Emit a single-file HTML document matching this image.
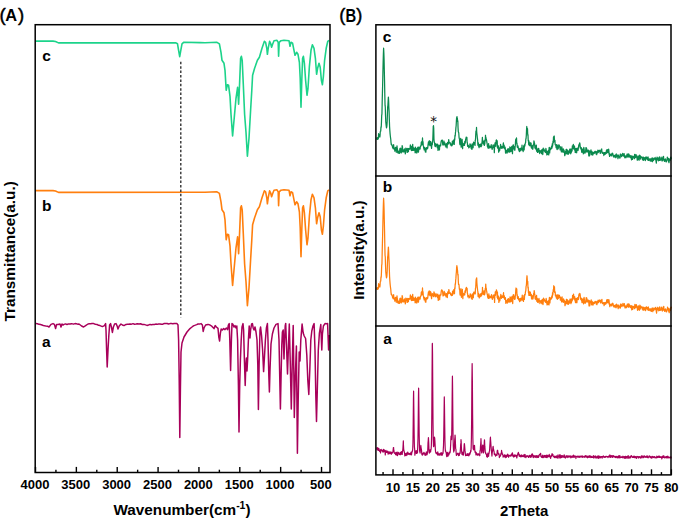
<!DOCTYPE html>
<html lang="en">
<head>
<meta charset="utf-8">
<title>FTIR spectra and XRD patterns</title>
<style>
html,body{margin:0;padding:0;background:#fff;}
body{width:685px;height:521px;overflow:hidden;font-family:"Liberation Sans",Arial,sans-serif;}
svg{display:block;}
</style>
</head>
<body>
<svg width="685" height="521" viewBox="0 0 685 521">
<rect width="685" height="521" fill="#fff"/>
<g fill="none" stroke-linejoin="round" stroke-linecap="butt">
<polyline points="36.00,41.10 53.00,41.10 55.50,41.50 58.50,42.90 176.00,42.90 177.50,43.80 178.60,50.30 179.70,56.60 180.80,50.30 182.00,43.80 183.60,42.30 200.00,42.60 205.00,42.70 217.00,42.30 219.40,43.90 221.00,52.30 222.00,60.30 224.00,63.30 225.00,70.30 226.20,90.30 227.40,84.70 228.60,85.30 230.00,96.30 231.00,114.30 232.60,135.90 234.20,118.30 236.00,98.30 237.60,87.30 238.60,104.30 239.40,88.30 240.60,58.30 241.40,56.30 242.20,60.30 243.30,84.30 244.60,114.30 246.00,132.30 247.40,156.30 249.00,138.30 250.60,110.30 251.80,90.30 252.60,75.30 254.60,68.30 257.40,60.30 259.40,57.30 262.00,48.30 264.40,41.30 265.60,42.30 266.80,48.30 267.40,54.30 268.20,48.30 269.60,41.30 270.60,43.30 271.60,47.30 272.60,44.30 274.00,40.70 277.00,40.30 278.20,42.30 278.60,56.30 279.20,42.30 281.00,40.70 284.00,40.30 289.00,40.70 290.00,46.30 291.00,42.30 292.60,43.30 294.00,50.30 295.00,55.30 296.60,52.30 298.00,54.30 299.40,62.30 300.20,78.30 301.00,107.30 301.80,80.30 302.60,58.30 303.40,56.30 304.40,63.30 305.60,80.30 307.00,95.30 308.00,88.30 309.40,66.30 311.00,50.30 312.40,44.70 314.00,48.30 315.40,58.30 316.60,74.30 317.60,68.30 319.00,63.30 320.20,67.30 321.40,80.30 322.40,84.70 323.40,76.30 324.60,60.30 326.20,48.30 327.80,41.30 329.00,40.30" stroke="#1cd38a" stroke-width="1.6"/>
<polyline points="36.00,190.60 53.00,190.60 55.50,191.00 58.50,192.40 200.00,192.30 205.00,192.20 217.00,191.80 219.40,193.40 221.00,201.80 222.00,209.80 224.00,212.80 225.00,219.80 226.20,239.80 227.40,234.20 228.60,234.80 230.00,245.80 231.00,263.80 232.60,285.40 234.20,267.80 236.00,247.80 237.60,236.80 238.60,253.80 239.40,237.80 240.60,207.80 241.40,205.80 242.20,209.80 243.30,233.80 244.60,263.80 246.00,281.80 247.40,305.80 249.00,287.80 250.60,259.80 251.80,239.80 252.60,224.80 254.60,217.80 257.40,209.80 259.40,206.80 262.00,197.80 264.40,190.80 265.60,191.80 266.80,197.80 267.40,203.80 268.20,197.80 269.60,190.80 270.60,192.80 271.60,196.80 272.60,193.80 274.00,190.20 277.00,189.80 278.20,191.80 278.60,205.80 279.20,191.80 281.00,190.20 284.00,189.80 289.00,190.20 290.00,195.80 291.00,191.80 292.60,192.80 294.00,199.80 295.00,204.80 296.60,201.80 298.00,203.80 299.40,211.80 300.20,227.80 301.00,256.80 301.80,229.80 302.60,207.80 303.40,205.80 304.40,212.80 305.60,229.80 307.00,244.80 308.00,237.80 309.40,215.80 311.00,199.80 312.40,194.20 314.00,197.80 315.40,207.80 316.60,223.80 317.60,217.80 319.00,212.80 320.20,216.80 321.40,229.80 322.40,234.20 323.40,225.80 324.60,209.80 326.20,197.80 327.80,190.80 329.00,189.80" stroke="#ff7f0e" stroke-width="1.6"/>
<polyline points="36.00,323.60 37.50,323.74 39.00,324.34 40.50,324.55 42.00,325.00 43.33,325.42 44.67,325.77 46.00,326.00 47.50,326.15 49.00,327.00 51.00,324.40 53.00,323.60 54.40,324.40 55.60,328.60 56.60,324.40 58.00,324.40 60.00,324.00 61.00,327.00 62.00,324.00 63.00,325.00 64.00,324.40 65.50,323.91 67.00,324.47 68.50,323.91 70.00,324.00 71.67,323.65 73.33,324.13 75.00,323.60 76.33,323.71 77.67,324.14 79.00,324.00 81.60,326.00 83.60,327.00 85.60,325.60 88.00,324.00 89.33,323.85 90.67,323.84 92.00,323.60 93.67,323.59 95.33,324.24 97.00,324.40 98.50,325.29 100.00,325.60 102.40,326.60 104.40,325.60 105.60,323.60 106.00,330.00 106.60,350.00 107.20,367.00 108.00,350.00 108.80,336.00 109.60,325.00 110.60,323.60 111.60,328.00 112.40,332.40 113.40,327.00 114.60,324.00 116.00,323.60 117.00,325.60 118.00,329.00 119.20,326.00 121.00,324.00 122.40,325.00 124.00,325.60 126.00,324.40 127.33,324.29 128.67,324.33 130.00,324.00 131.50,324.14 133.00,323.65 134.50,324.21 136.00,324.07 137.50,323.84 139.00,324.00 140.67,323.76 142.33,324.56 144.00,324.40 145.50,324.88 147.00,325.40 148.50,325.08 150.00,324.40 151.43,324.65 152.86,324.46 154.29,324.57 155.71,324.09 157.14,324.36 158.57,324.01 160.00,324.00 161.43,324.29 162.86,324.19 164.29,323.51 165.71,323.48 167.14,323.49 168.57,324.03 170.00,323.60 171.40,323.55 172.80,323.70 174.20,323.44 175.60,323.61 177.00,323.60 178.00,325.00 178.60,340.00 179.20,380.00 179.80,437.40 180.40,390.00 181.00,352.00 182.00,343.00 184.00,337.00 187.00,332.00 190.00,328.60 191.33,327.51 192.67,326.48 194.00,325.60 195.33,325.13 196.67,324.60 198.00,324.00 199.50,324.12 201.00,323.60 202.40,325.00 203.20,331.40 204.00,328.00 205.60,325.00 208.00,324.40 210.00,325.00 212.00,326.40 214.00,328.60 215.20,325.60 216.40,327.00 218.00,328.40 218.80,337.00 219.60,341.00 220.40,333.00 221.20,329.00 222.40,330.00 223.60,328.60 225.00,329.60 226.40,328.00 227.60,329.60 228.40,325.00 229.20,323.60 229.80,340.00 230.60,370.40 231.40,340.00 232.00,323.60 233.00,324.40 234.00,327.00 235.00,325.60 236.00,328.00 236.80,326.00 237.60,340.00 238.40,385.00 239.00,432.00 239.70,385.00 240.40,360.00 241.20,340.00 242.00,327.00 243.00,323.60 243.60,330.00 244.40,360.00 245.20,385.60 245.80,366.00 246.40,358.00 247.00,371.00 247.60,360.00 248.40,340.00 249.20,326.00 250.00,338.00 250.60,330.00 251.60,324.00 252.40,323.60 253.20,328.00 254.00,330.00 255.00,327.00 256.00,332.00 257.00,340.00 257.80,365.00 258.40,409.50 259.10,365.00 260.00,330.00 260.60,327.00 261.60,336.00 262.60,350.00 263.60,371.60 264.40,358.00 265.40,340.00 266.40,328.00 267.40,323.60 268.00,340.00 268.80,375.00 269.40,392.00 270.00,370.00 271.00,344.00 272.40,334.00 274.00,328.00 276.00,324.40 278.00,323.60 279.00,340.00 279.80,380.00 280.40,409.00 281.10,375.00 281.80,345.00 282.40,332.00 283.20,330.00 283.60,348.00 284.00,359.00 284.60,340.00 285.20,326.00 285.70,323.40 286.50,345.00 287.50,374.00 288.50,345.00 289.30,324.00 290.20,360.00 291.30,409.00 292.20,365.00 293.20,325.50 293.80,370.00 294.30,417.50 295.20,380.00 296.40,346.00 296.90,400.00 297.40,453.30 298.20,400.00 299.20,352.00 300.00,361.00 300.80,340.00 302.10,324.00 303.20,333.00 304.20,336.00 305.60,338.50 306.80,355.00 307.80,380.00 308.80,394.50 309.80,370.00 310.80,340.00 311.80,331.00 313.00,326.00 314.10,323.60 315.00,350.00 315.80,395.00 316.50,421.60 317.30,390.00 318.30,350.00 319.40,333.00 320.80,324.60 321.30,338.00 321.80,350.00 322.40,334.00 323.40,326.00 325.00,323.60 326.30,323.75 327.60,323.60 328.20,340.00 328.60,350.00 329.20,335.00" stroke="#a8005a" stroke-width="1.5"/>
<polyline points="376.69,139.59 376.93,138.11 377.17,137.63 377.41,139.29 377.65,139.44 377.89,139.20 378.13,138.79 378.36,138.40 378.60,133.67 378.84,134.99 379.08,135.73 379.32,134.87 379.56,136.15 379.80,137.13 380.03,135.99 380.27,131.71 380.51,131.36 380.75,130.88 380.99,126.79 381.23,127.27 381.47,122.02 381.71,115.34 381.94,113.84 382.18,102.76 382.42,93.13 382.66,84.10 382.90,72.96 383.14,62.51 383.38,54.02 383.61,48.18 383.85,52.72 384.09,59.84 384.33,71.59 384.57,81.85 384.81,94.95 385.05,105.48 385.28,106.77 385.52,115.48 385.76,121.60 386.00,124.04 386.24,126.23 386.48,127.91 386.72,127.17 386.95,125.11 387.19,121.27 387.43,113.60 387.67,106.90 387.91,105.28 388.15,100.81 388.39,97.16 388.63,101.12 388.86,107.52 389.10,111.64 389.34,119.87 389.58,126.60 389.82,130.21 390.06,133.34 390.30,135.79 390.53,137.58 390.77,139.28 391.01,142.51 391.25,144.32 391.49,143.94 391.73,145.11 391.97,144.94 392.20,145.27 392.44,146.91 392.68,147.97 392.92,146.61 393.16,148.69 393.40,147.85 393.64,144.74 393.87,148.34 394.11,148.83 394.35,149.42 394.59,148.10 394.83,151.16 395.07,149.98 395.31,149.77 395.55,147.45 395.78,147.42 396.02,150.77 396.26,152.26 396.50,148.44 396.74,149.99 396.98,145.90 397.22,148.49 397.45,148.73 397.69,152.75 397.93,151.00 398.17,151.34 398.41,153.24 398.65,151.01 398.89,151.14 399.12,152.47 399.36,153.47 399.60,153.08 399.84,148.55 400.08,149.70 400.32,148.15 400.56,152.24 400.79,150.19 401.03,149.15 401.27,152.87 401.51,151.21 401.75,148.27 401.99,148.71 402.15,145.60 402.23,147.52 402.47,146.69 402.70,151.71 402.94,150.51 403.18,152.10 403.42,151.06 403.66,151.44 403.90,149.69 404.14,150.58 404.37,148.97 404.61,151.38 404.85,152.34 405.09,151.97 405.33,153.82 405.57,152.14 405.81,148.01 406.04,150.36 406.28,148.46 406.52,148.87 406.76,149.34 407.00,150.54 407.24,152.35 407.48,148.73 407.71,151.93 407.95,148.46 408.19,151.47 408.43,151.56 408.67,148.68 408.91,148.56 409.15,149.45 409.39,148.60 409.62,148.82 409.86,149.17 410.10,148.12 410.34,144.93 410.58,148.46 410.82,146.49 411.06,147.77 411.29,150.27 411.53,149.86 411.77,150.64 412.01,145.77 412.25,150.28 412.49,146.12 412.73,144.43 412.88,150.49 412.96,146.94 413.20,147.18 413.44,149.55 413.68,148.07 413.92,150.30 414.16,149.15 414.40,148.53 414.63,150.02 414.87,148.06 415.11,152.76 415.35,147.10 415.59,151.76 415.83,152.30 416.07,151.84 416.31,151.02 416.54,148.54 416.78,153.05 417.02,148.17 417.26,149.62 417.50,147.55 417.74,151.87 417.98,147.18 418.21,151.66 418.45,152.13 418.69,150.22 418.93,147.08 419.17,149.03 419.41,147.62 419.65,148.71 419.88,148.71 420.12,149.07 420.36,146.25 420.60,146.57 420.84,146.09 421.08,145.30 421.32,142.10 421.55,144.99 421.79,142.65 421.99,141.43 422.03,141.73 422.27,142.71 422.51,137.93 422.75,144.97 422.99,141.58 423.23,145.14 423.46,145.91 423.70,148.26 423.94,148.30 424.18,149.98 424.42,147.28 424.66,149.61 424.90,149.71 425.13,149.67 425.37,151.81 425.61,148.21 425.85,152.23 426.09,149.15 426.33,148.26 426.57,147.55 426.80,149.14 427.04,147.80 427.28,148.83 427.52,147.82 427.76,148.20 428.00,145.13 428.24,143.50 428.47,141.90 428.71,144.86 428.95,143.73 429.19,140.94 429.43,144.61 429.59,142.81 429.67,140.94 429.91,145.61 430.15,143.16 430.38,141.59 430.62,142.07 430.86,141.90 431.10,145.05 431.34,146.58 431.58,148.33 431.82,144.81 432.05,143.23 432.29,144.66 432.53,141.57 432.77,140.15 433.01,133.79 433.25,126.37 433.41,126.71 433.49,125.62 433.72,128.28 433.96,138.71 434.20,142.26 434.44,141.90 434.68,144.14 434.92,146.24 435.16,144.19 435.39,145.44 435.63,146.55 435.87,143.58 436.11,144.38 436.35,144.78 436.59,145.07 436.83,144.85 437.07,146.49 437.30,147.54 437.54,144.03 437.78,147.11 438.02,150.40 438.26,148.70 438.50,148.36 438.74,146.64 438.97,145.16 439.21,145.55 439.45,149.91 439.69,146.01 439.93,146.17 440.17,145.25 440.41,145.56 440.64,145.77 440.88,143.25 441.12,141.53 441.36,140.79 441.60,140.34 441.84,140.85 442.00,140.24 442.08,140.75 442.31,140.15 442.55,142.89 442.79,144.88 443.03,143.37 443.27,142.46 443.51,144.94 443.75,142.07 443.99,141.01 444.22,144.03 444.46,144.44 444.70,143.34 444.94,142.92 445.18,145.59 445.42,145.08 445.66,145.08 445.89,147.00 446.13,145.01 446.37,143.76 446.61,143.70 446.85,145.23 447.09,147.85 447.33,143.92 447.56,142.43 447.80,144.38 448.04,144.13 448.28,143.29 448.52,143.52 448.68,139.71 448.76,139.71 449.00,141.95 449.23,142.20 449.47,142.88 449.71,143.10 449.95,142.73 450.19,142.71 450.43,144.85 450.67,144.31 450.91,143.82 451.14,144.35 451.38,145.79 451.62,144.38 451.86,144.91 452.10,145.63 452.34,141.21 452.58,143.84 452.81,144.46 453.05,142.23 453.29,142.35 453.53,140.02 453.77,141.46 454.01,142.31 454.25,144.46 454.48,138.82 454.72,139.99 454.96,135.41 455.20,136.23 455.44,132.76 455.68,131.15 455.92,127.48 456.15,125.73 456.39,120.97 456.63,117.62 456.87,117.86 456.99,116.66 457.11,117.43 457.35,117.97 457.59,121.35 457.83,120.87 458.06,128.02 458.30,131.86 458.54,132.15 458.78,133.20 459.02,136.83 459.26,138.56 459.50,138.98 459.73,143.43 459.97,144.63 460.21,141.23 460.45,143.40 460.69,138.33 460.93,143.62 461.17,147.12 461.40,143.81 461.64,144.67 461.88,143.20 462.12,139.37 462.36,144.40 462.60,148.60 462.84,144.65 463.07,143.25 463.31,145.03 463.55,144.19 463.79,145.34 464.03,143.95 464.27,144.07 464.51,145.33 464.75,141.49 464.98,143.37 465.22,143.26 465.46,141.43 465.70,138.96 465.94,138.95 466.18,137.02 466.42,138.31 466.65,138.98 466.89,137.35 467.13,142.48 467.37,142.76 467.61,146.31 467.85,145.33 468.09,145.69 468.32,145.31 468.56,146.20 468.80,147.92 469.04,146.46 469.28,147.41 469.52,146.51 469.76,145.64 469.99,143.92 470.23,144.23 470.47,145.09 470.71,146.94 470.95,145.09 471.19,148.43 471.43,146.50 471.67,147.04 471.90,149.40 472.14,143.93 472.38,147.23 472.62,147.93 472.86,144.77 473.10,147.75 473.34,143.71 473.57,142.24 473.81,144.24 474.05,143.94 474.29,143.52 474.53,142.69 474.77,144.20 475.01,145.35 475.24,140.04 475.48,140.18 475.72,134.89 475.96,131.11 476.20,131.44 476.44,129.70 476.52,127.40 476.68,131.48 476.91,133.72 477.15,135.76 477.39,138.21 477.63,139.91 477.87,145.15 478.11,143.66 478.35,142.74 478.59,146.14 478.82,146.18 479.06,147.62 479.30,144.64 479.54,146.25 479.78,145.07 480.02,146.72 480.26,144.11 480.49,146.31 480.73,146.27 480.97,144.10 481.21,146.62 481.45,144.07 481.69,145.57 481.93,142.82 482.16,141.27 482.40,137.32 482.48,141.51 482.64,139.75 482.88,142.72 483.12,143.41 483.36,143.70 483.60,142.83 483.83,144.34 484.07,140.98 484.31,145.48 484.55,144.65 484.79,143.87 485.03,139.88 485.27,140.90 485.51,135.25 485.74,138.66 485.98,137.53 486.22,138.93 486.46,139.73 486.70,141.15 486.94,142.87 487.18,143.75 487.41,146.33 487.65,144.86 487.89,147.90 488.13,146.00 488.37,147.68 488.61,143.68 488.85,148.32 489.08,147.37 489.32,147.29 489.56,146.15 489.80,146.12 490.04,147.52 490.28,147.10 490.52,146.47 490.75,147.57 490.99,147.07 491.23,144.70 491.47,147.39 491.71,147.20 491.95,148.93 492.19,149.27 492.43,148.10 492.66,147.47 492.90,145.23 493.14,147.65 493.38,147.13 493.62,147.40 493.86,144.94 494.10,145.64 494.33,152.68 494.57,146.76 494.81,146.12 495.05,142.88 495.29,146.42 495.53,143.70 495.77,142.89 496.00,141.65 496.24,140.09 496.40,141.46 496.48,139.91 496.72,141.40 496.96,146.14 497.20,140.80 497.44,147.81 497.67,148.21 497.91,146.11 498.15,146.87 498.39,145.88 498.63,152.22 498.87,147.70 499.11,147.83 499.34,149.62 499.58,150.87 499.82,148.87 500.06,148.15 500.30,147.84 500.54,144.43 500.78,146.15 501.02,147.74 501.25,148.42 501.49,146.71 501.73,146.30 501.97,147.84 502.21,146.56 502.45,147.07 502.69,147.70 502.92,148.08 503.16,144.40 503.40,142.81 503.56,147.67 503.64,145.78 503.88,147.13 504.12,145.15 504.36,147.82 504.59,148.76 504.83,147.90 505.07,147.13 505.31,148.78 505.55,153.07 505.79,151.02 506.03,150.58 506.26,151.83 506.50,151.50 506.74,150.96 506.98,153.12 507.22,149.86 507.46,149.20 507.70,151.02 507.94,151.99 508.17,148.59 508.41,151.96 508.65,149.64 508.89,149.29 509.13,151.46 509.37,151.00 509.61,152.09 509.84,146.78 510.08,148.39 510.32,148.52 510.56,147.68 510.80,151.70 511.04,149.83 511.28,149.94 511.51,151.18 511.75,146.34 511.99,148.62 512.23,149.43 512.47,153.62 512.71,147.82 512.95,145.05 513.18,148.30 513.42,144.90 513.66,148.08 513.90,146.46 514.14,149.48 514.38,150.04 514.62,148.14 514.86,150.19 515.09,147.11 515.33,145.16 515.57,141.14 515.81,139.05 516.05,141.94 516.29,141.96 516.53,137.90 516.76,144.07 517.00,143.21 517.24,146.88 517.48,147.41 517.72,146.19 517.96,145.98 518.20,147.31 518.43,149.26 518.67,148.06 518.91,150.40 519.15,149.70 519.39,151.69 519.63,149.98 519.87,149.37 520.10,148.46 520.34,150.86 520.58,150.30 520.82,150.67 521.06,148.18 521.30,148.26 521.54,148.15 521.78,149.39 522.01,145.19 522.25,149.96 522.49,148.67 522.73,150.42 522.97,150.36 523.21,151.57 523.45,148.85 523.68,145.81 523.92,149.43 524.16,149.88 524.40,145.00 524.64,145.40 524.88,146.04 525.12,144.02 525.35,142.98 525.59,142.72 525.83,138.93 526.07,138.57 526.31,135.54 526.55,129.84 526.79,126.50 527.02,128.94 527.26,131.87 527.50,128.74 527.74,135.31 527.98,134.69 528.22,140.75 528.46,141.00 528.70,144.46 528.93,140.93 529.17,145.10 529.41,145.66 529.65,143.38 529.89,143.58 530.13,142.62 530.37,145.80 530.60,144.29 530.84,144.21 531.08,143.14 531.32,147.82 531.56,147.51 531.80,147.62 532.04,148.60 532.27,145.58 532.51,145.81 532.75,149.27 532.99,147.92 533.23,145.83 533.47,144.03 533.71,144.86 533.94,140.81 534.18,141.79 534.42,143.28 534.66,144.02 534.90,147.88 535.14,148.31 535.38,145.96 535.62,147.70 535.85,149.21 536.09,147.40 536.33,145.18 536.57,151.17 536.81,148.03 537.05,148.32 537.29,149.77 537.52,152.35 537.76,150.14 538.00,152.48 538.24,149.50 538.48,149.14 538.72,148.28 538.96,150.75 539.19,151.63 539.43,150.45 539.67,153.51 539.91,150.73 540.15,151.76 540.39,151.04 540.63,151.10 540.86,150.76 541.10,152.59 541.34,150.20 541.58,153.67 541.82,151.19 542.06,153.15 542.30,149.35 542.54,150.76 542.77,154.52 543.01,151.83 543.25,148.12 543.49,150.39 543.73,149.70 543.97,149.14 544.21,149.73 544.44,151.14 544.68,150.48 544.92,151.17 545.16,152.01 545.40,152.24 545.64,150.75 545.88,148.47 546.11,149.67 546.35,152.91 546.59,150.96 546.83,154.90 547.07,151.88 547.31,153.43 547.55,151.29 547.78,152.58 548.02,154.40 548.26,151.97 548.50,150.40 548.74,154.95 548.98,149.23 549.22,147.33 549.46,147.62 549.69,152.89 549.93,149.10 550.17,149.73 550.41,148.05 550.65,149.65 550.89,148.83 551.13,148.78 551.36,148.08 551.60,146.18 551.84,148.37 552.08,147.47 552.32,143.54 552.56,146.13 552.80,144.28 553.03,141.05 553.27,142.65 553.51,137.00 553.75,142.07 553.99,137.17 554.07,137.55 554.23,136.00 554.47,141.17 554.70,141.16 554.94,140.37 555.18,144.57 555.42,144.93 555.66,144.69 555.90,145.89 556.14,147.54 556.38,146.47 556.61,144.68 556.85,148.54 557.09,149.56 557.33,145.24 557.57,148.99 557.81,147.40 558.05,148.97 558.28,148.29 558.52,147.30 558.76,144.89 558.84,146.59 559.00,145.52 559.24,145.14 559.48,146.61 559.72,146.52 559.95,148.05 560.19,149.81 560.43,146.76 560.67,148.83 560.91,148.38 561.15,149.97 561.39,151.87 561.62,151.73 561.86,146.81 562.10,151.32 562.34,151.23 562.58,149.49 562.82,151.03 563.06,152.37 563.30,148.81 563.53,151.32 563.77,151.55 564.01,150.09 564.25,151.25 564.49,152.04 564.73,155.63 564.97,155.10 565.20,153.20 565.44,151.34 565.68,151.12 565.92,153.67 566.16,149.26 566.40,151.27 566.64,149.35 566.87,150.62 567.11,154.01 567.35,150.13 567.59,151.64 567.83,150.92 568.07,153.34 568.31,154.31 568.54,151.42 568.78,152.28 569.02,150.93 569.26,153.16 569.50,152.16 569.74,149.09 569.98,151.44 570.22,150.14 570.45,150.09 570.69,153.76 570.93,148.87 571.17,152.82 571.41,151.65 571.65,150.44 571.89,151.14 572.12,150.59 572.36,145.89 572.60,146.76 572.84,148.09 573.08,147.82 573.32,144.27 573.56,148.91 573.79,145.74 574.03,147.79 574.27,147.25 574.51,146.23 574.75,150.20 574.99,148.19 575.23,152.37 575.46,150.21 575.70,148.64 575.94,150.10 576.18,152.61 576.42,148.75 576.66,152.75 576.90,149.97 577.14,148.04 577.37,148.80 577.61,149.10 577.85,149.49 578.09,150.49 578.33,148.44 578.57,146.53 578.81,145.14 579.04,144.50 579.28,145.79 579.52,143.23 579.76,142.94 580.00,144.28 580.24,148.07 580.48,146.88 580.71,147.85 580.95,147.54 581.19,149.77 581.43,147.91 581.67,151.86 581.91,152.45 582.15,151.89 582.38,149.33 582.62,150.17 582.86,149.61 583.10,148.86 583.34,153.86 583.58,153.16 583.82,147.33 584.06,148.90 584.29,150.45 584.53,151.26 584.77,152.48 585.01,153.27 585.25,150.90 585.49,152.13 585.73,150.12 585.96,147.60 586.20,151.79 586.44,147.92 586.68,150.11 586.92,149.05 587.16,151.92 587.40,151.94 587.63,150.96 587.87,151.86 588.11,150.85 588.35,150.09 588.59,153.28 588.83,155.97 589.07,150.69 589.30,154.34 589.54,155.78 589.78,151.86 590.02,152.98 590.26,151.03 590.50,151.46 590.74,152.45 590.98,149.76 591.21,154.76 591.45,153.60 591.69,153.15 591.93,151.35 592.17,153.65 592.41,154.06 592.65,155.13 592.88,154.71 593.12,152.37 593.36,152.41 593.60,152.93 593.84,153.61 594.08,152.42 594.32,153.29 594.55,152.43 594.79,151.44 595.03,152.39 595.27,151.49 595.51,152.48 595.75,151.42 595.99,153.98 596.22,152.54 596.46,152.20 596.70,154.71 596.94,151.81 597.18,152.96 597.42,151.16 597.66,152.83 597.90,150.13 598.13,150.37 598.37,152.38 598.61,150.65 598.85,151.38 599.09,150.86 599.33,150.27 599.57,151.70 599.80,151.07 600.04,150.81 600.28,153.34 600.52,150.86 600.76,150.51 601.00,150.05 601.24,149.78 601.47,151.68 601.71,148.98 601.95,152.75 602.19,152.08 602.43,153.33 602.67,152.88 602.91,152.41 603.14,152.53 603.38,153.00 603.62,153.82 603.86,155.51 604.10,153.67 604.34,152.63 604.58,154.36 604.82,152.64 605.05,152.70 605.29,152.49 605.53,154.16 605.77,153.08 606.01,153.48 606.25,152.84 606.49,150.06 606.72,153.14 606.96,151.01 607.20,149.70 607.44,152.25 607.68,150.57 607.76,152.37 607.92,149.95 608.16,152.53 608.39,151.66 608.63,149.13 608.87,150.57 609.11,154.29 609.35,154.62 609.59,156.44 609.83,153.84 610.06,154.39 610.30,154.49 610.54,154.54 610.78,155.18 611.02,155.53 611.26,154.01 611.50,155.91 611.74,154.82 611.97,154.37 612.21,153.18 612.45,153.26 612.69,153.44 612.93,154.20 613.17,156.05 613.41,156.36 613.64,155.61 613.88,157.14 614.12,155.27 614.36,156.14 614.60,156.70 614.84,156.34 615.08,156.98 615.31,155.15 615.55,154.85 615.79,157.75 616.03,155.57 616.27,153.99 616.51,155.80 616.75,156.77 616.98,155.99 617.22,155.84 617.46,155.44 617.70,154.97 617.94,158.70 618.18,157.15 618.42,155.91 618.65,155.21 618.89,157.17 619.13,156.41 619.37,156.71 619.61,156.66 619.85,158.15 620.09,157.93 620.33,154.03 620.56,154.81 620.80,154.15 621.04,154.89 621.28,154.68 621.52,156.47 621.76,156.69 622.00,155.21 622.23,155.25 622.47,154.46 622.71,153.29 622.95,154.74 623.19,155.54 623.43,154.48 623.67,156.17 623.90,155.90 624.14,153.60 624.38,155.47 624.62,156.96 624.86,157.97 625.10,156.30 625.34,156.61 625.57,155.82 625.81,157.73 626.05,157.71 626.29,156.88 626.53,155.71 626.77,156.40 627.01,154.22 627.25,154.85 627.48,154.23 627.72,156.55 627.96,157.27 628.20,153.88 628.44,156.87 628.68,156.75 628.92,154.02 629.15,156.06 629.39,156.47 629.63,156.78 629.87,155.47 630.11,157.47 630.35,157.60 630.59,157.48 630.82,157.14 631.06,155.59 631.30,158.24 631.54,159.81 631.78,157.84 632.02,158.73 632.26,156.19 632.49,159.36 632.73,156.28 632.97,157.06 633.21,157.80 633.45,157.04 633.69,156.31 633.93,156.80 634.17,156.83 634.40,158.71 634.64,154.38 634.88,154.75 635.12,156.69 635.36,156.08 635.60,157.70 635.84,156.02 636.07,154.50 636.31,156.59 636.55,155.90 636.79,156.00 637.03,158.39 637.27,160.25 637.51,157.53 637.74,157.89 637.98,159.70 638.22,155.84 638.46,157.39 638.70,157.47 638.94,157.45 639.18,160.23 639.41,157.22 639.65,155.12 639.89,155.89 640.13,157.63 640.37,155.98 640.61,159.02 640.85,156.28 641.09,157.38 641.32,157.42 641.56,157.52 641.80,157.36 642.04,156.96 642.28,157.58 642.52,159.97 642.76,158.86 642.99,159.31 643.23,158.74 643.47,157.22 643.71,160.33 643.95,159.62 644.19,158.58 644.43,158.70 644.66,157.53 644.90,159.24 645.14,158.96 645.38,160.52 645.62,157.46 645.86,157.66 646.10,156.75 646.33,157.61 646.57,158.95 646.81,157.55 647.05,158.01 647.29,157.65 647.53,159.94 647.77,158.62 648.01,156.90 648.24,157.83 648.48,160.45 648.72,159.69 648.96,159.86 649.20,159.51 649.44,158.91 649.68,159.23 649.91,160.59 650.15,160.23 650.39,158.77 650.63,158.95 650.87,161.20 651.11,161.35 651.35,159.27 651.58,160.10 651.82,158.13 652.06,158.40 652.30,158.43 652.54,161.74 652.78,157.76 653.02,159.74 653.25,160.39 653.49,160.46 653.73,160.02 653.97,158.76 654.21,158.36 654.45,158.52 654.69,159.22 654.93,158.66 655.16,157.45 655.40,159.50 655.64,158.33 655.88,160.18 656.12,161.88 656.36,163.06 656.60,159.61 656.83,158.52 657.07,157.23 657.31,159.84 657.55,159.44 657.79,159.71 658.03,157.81 658.27,158.41 658.50,160.78 658.74,159.87 658.98,159.21 659.22,159.04 659.46,156.93 659.70,160.48 659.94,159.51 660.17,158.97 660.41,160.12 660.65,159.64 660.89,159.67 661.13,157.12 661.37,159.83 661.61,158.21 661.85,158.60 662.08,161.05 662.32,160.48 662.56,160.59 662.80,157.22 663.04,160.13 663.28,157.40 663.52,156.28 663.75,159.70 663.99,159.44 664.23,159.70 664.47,161.36 664.71,159.39 664.95,160.09 665.19,159.26 665.42,158.98 665.66,159.86 665.90,161.54 666.14,160.80 666.38,161.95 666.62,160.55 666.86,159.85 667.09,159.63 667.33,157.15 667.57,158.16 667.81,159.63 668.05,160.41 668.29,159.25 668.53,161.78 668.77,158.46 669.00,162.69 669.24,159.19 669.48,160.99 669.72,159.33 669.96,160.60 670.20,160.30 670.44,159.14 670.67,157.43 670.91,157.09 671.15,158.47 671.39,159.21" stroke="#0b8a4e" stroke-width="1.25"/>
<polyline points="376.69,289.59 376.93,288.11 377.17,287.63 377.41,289.29 377.65,289.44 377.89,289.20 378.13,288.79 378.36,288.40 378.60,283.67 378.84,284.99 379.08,285.74 379.32,284.87 379.56,286.15 379.80,287.13 380.03,285.99 380.27,281.71 380.51,281.36 380.75,280.88 380.99,276.79 381.23,277.27 381.47,272.02 381.71,265.34 381.94,263.84 382.18,252.76 382.42,243.13 382.66,234.10 382.90,222.96 383.14,212.52 383.38,204.02 383.61,198.18 383.85,202.72 384.09,209.84 384.33,221.59 384.57,231.85 384.81,244.95 385.05,255.48 385.28,256.78 385.52,265.48 385.76,271.60 386.00,274.04 386.24,276.23 386.48,277.91 386.72,277.17 386.95,275.11 387.19,271.28 387.43,263.60 387.67,256.90 387.91,255.28 388.15,250.82 388.39,247.16 388.63,251.12 388.86,257.52 389.10,261.64 389.34,269.87 389.58,276.60 389.82,280.21 390.06,283.34 390.30,285.79 390.53,287.58 390.77,289.28 391.01,292.51 391.25,294.32 391.49,293.94 391.73,295.11 391.97,294.94 392.20,295.27 392.44,296.91 392.68,297.97 392.92,296.61 393.16,298.69 393.40,297.85 393.64,294.74 393.87,298.34 394.11,298.83 394.35,299.42 394.59,298.11 394.83,301.16 395.07,299.98 395.31,299.77 395.55,297.45 395.78,297.42 396.02,300.77 396.26,302.26 396.50,298.44 396.74,299.99 396.98,295.90 397.22,298.49 397.45,298.73 397.69,302.75 397.93,301.00 398.17,301.34 398.41,303.25 398.65,301.01 398.89,301.14 399.12,302.47 399.36,303.47 399.60,303.08 399.84,298.55 400.08,299.70 400.32,298.15 400.56,302.24 400.79,300.19 401.03,299.15 401.27,302.87 401.51,301.21 401.75,298.27 401.99,298.71 402.15,295.60 402.23,297.52 402.47,296.69 402.70,301.71 402.94,300.51 403.18,302.10 403.42,301.06 403.66,301.45 403.90,299.70 404.14,300.58 404.37,298.97 404.61,301.38 404.85,302.34 405.09,301.98 405.33,303.82 405.57,302.14 405.81,298.01 406.04,300.36 406.28,298.46 406.52,298.87 406.76,299.34 407.00,300.54 407.24,302.35 407.48,298.73 407.71,301.93 407.95,298.46 408.19,301.47 408.43,301.56 408.67,298.68 408.91,298.56 409.15,299.45 409.39,298.60 409.62,298.82 409.86,299.18 410.10,298.12 410.34,294.93 410.58,298.46 410.82,296.49 411.06,297.78 411.29,300.27 411.53,299.86 411.77,300.64 412.01,295.77 412.25,300.28 412.49,296.12 412.73,294.44 412.88,300.49 412.96,296.94 413.20,297.18 413.44,299.56 413.68,298.07 413.92,300.30 414.16,299.15 414.40,298.53 414.63,300.02 414.87,298.07 415.11,302.76 415.35,297.11 415.59,301.77 415.83,302.30 416.07,301.84 416.31,301.02 416.54,298.54 416.78,303.06 417.02,298.17 417.26,299.62 417.50,297.55 417.74,301.87 417.98,297.19 418.21,301.66 418.45,302.14 418.69,300.22 418.93,297.08 419.17,299.04 419.41,297.62 419.65,298.71 419.88,298.72 420.12,299.08 420.36,296.26 420.60,296.57 420.84,296.10 421.08,295.30 421.32,292.11 421.55,295.00 421.79,292.66 421.99,291.44 422.03,291.74 422.27,292.72 422.51,287.94 422.75,294.98 422.99,291.59 423.23,295.15 423.46,295.93 423.70,298.27 423.94,298.31 424.18,299.99 424.42,297.29 424.66,299.63 424.90,299.72 425.13,299.68 425.37,301.83 425.61,298.23 425.85,302.25 426.09,299.17 426.33,298.29 426.57,297.58 426.80,299.17 427.04,297.83 427.28,298.86 427.52,297.85 427.76,298.24 428.00,295.17 428.24,293.54 428.47,291.95 428.71,294.91 428.95,293.79 429.19,291.00 429.43,294.68 429.59,292.88 429.67,291.02 429.91,295.70 430.15,293.26 430.38,291.71 430.62,292.22 430.86,292.07 431.10,295.26 431.34,296.84 431.58,298.66 431.82,295.23 432.05,293.82 432.29,295.62 432.53,293.64 432.77,295.30 433.01,294.97 433.25,294.45 433.49,296.71 433.72,295.11 433.96,291.90 434.20,295.54 434.44,295.06 434.68,293.10 434.92,294.80 435.16,296.69 435.39,294.53 435.63,295.70 435.87,296.75 436.11,293.76 436.35,294.52 436.59,294.89 436.83,295.16 437.07,294.92 437.30,296.54 437.54,297.59 437.78,294.07 438.02,297.13 438.26,300.41 438.50,298.69 438.74,298.34 438.97,296.59 439.21,295.08 439.45,295.42 439.69,299.70 439.93,295.71 440.17,295.74 440.41,294.68 440.64,294.85 440.88,294.93 441.12,292.33 441.36,290.62 441.60,290.01 441.84,289.85 442.00,290.75 442.08,290.27 442.31,291.11 442.55,290.85 442.79,293.77 443.03,295.81 443.27,294.23 443.51,293.21 443.75,295.55 443.99,292.54 444.22,291.35 444.46,294.27 444.70,294.59 444.94,293.43 445.18,292.97 445.42,295.61 445.66,295.09 445.89,295.06 446.13,296.97 446.37,294.95 446.61,293.67 446.85,293.55 447.09,295.01 447.33,297.54 447.56,293.52 447.80,291.95 448.04,293.86 448.28,293.66 448.52,292.96 448.68,293.44 448.76,289.71 449.00,289.88 449.23,292.30 449.47,292.63 449.71,293.30 449.95,293.45 450.19,292.98 450.43,292.87 450.67,294.92 450.91,294.32 451.14,293.78 451.38,294.28 451.62,295.69 451.86,294.26 452.10,294.77 452.34,295.47 452.58,291.02 452.81,293.62 453.05,294.21 453.29,291.93 453.53,292.00 453.77,289.60 454.01,290.95 454.25,291.67 454.48,293.67 454.72,287.82 454.96,288.72 455.20,283.81 455.44,284.21 455.68,280.26 455.92,278.14 456.15,274.01 456.39,272.10 456.63,267.76 456.87,265.70 456.99,267.61 457.11,266.93 457.35,269.38 457.59,271.17 457.83,274.98 458.06,274.33 458.30,281.04 458.54,284.36 458.78,284.16 459.02,284.80 459.26,288.10 459.50,289.55 459.73,289.77 459.97,294.06 460.21,295.14 460.45,291.64 460.69,293.75 460.93,288.62 461.17,293.87 461.40,297.33 461.64,293.99 461.88,294.82 462.12,293.33 462.36,289.48 462.60,294.50 462.84,298.68 463.07,294.71 463.31,293.29 463.55,295.04 463.79,294.16 464.03,295.24 464.27,293.75 464.51,293.72 464.75,294.81 464.98,290.77 465.22,292.46 465.46,292.22 465.70,290.40 465.94,288.19 466.18,288.69 466.42,287.38 466.65,289.19 466.89,290.10 467.13,288.49 467.37,293.50 467.61,293.59 467.85,296.93 468.09,295.77 468.32,295.99 468.56,295.51 468.80,296.34 469.04,298.02 469.28,296.54 469.52,297.47 469.76,296.56 469.99,295.69 470.23,293.96 470.47,294.26 470.71,295.12 470.95,296.96 471.19,295.11 471.43,298.44 471.67,296.51 471.90,297.04 472.14,299.40 472.38,293.92 472.62,297.20 472.86,297.88 473.10,294.71 473.34,297.66 473.57,293.60 473.81,292.08 474.05,294.01 474.29,293.60 474.53,293.02 474.77,291.94 475.01,293.12 475.24,293.87 475.48,288.12 475.72,287.87 475.96,282.41 476.20,278.92 476.44,280.22 476.52,279.62 476.68,277.76 476.91,283.14 477.15,286.11 477.39,288.25 477.63,290.43 477.87,291.72 478.11,296.52 478.35,294.65 478.59,293.42 478.82,296.60 479.06,296.49 479.30,297.83 479.54,294.77 479.78,296.33 480.02,295.10 480.26,296.69 480.49,294.00 480.73,296.07 480.97,295.88 481.21,293.53 481.45,295.87 481.69,293.18 481.93,294.64 482.16,292.03 482.40,290.83 482.48,287.29 482.64,291.62 482.88,290.31 483.12,293.55 483.36,294.29 483.60,294.45 483.83,293.35 484.07,294.55 484.31,290.84 484.55,294.97 484.79,293.78 485.03,292.67 485.27,288.44 485.51,289.44 485.74,284.11 485.98,288.25 486.22,288.05 486.46,290.19 486.70,291.32 486.94,292.73 487.18,294.26 487.41,294.87 487.65,297.17 487.89,295.46 488.13,298.32 488.37,296.29 488.61,297.88 488.85,293.83 489.08,298.44 489.32,297.47 489.56,297.37 489.80,296.22 490.04,296.18 490.28,297.57 490.52,297.15 490.75,296.52 490.99,297.61 491.23,297.11 491.47,294.73 491.71,297.42 491.95,297.23 492.19,298.95 492.43,299.29 492.66,298.11 492.90,297.47 493.14,295.23 493.38,297.64 493.62,297.10 493.86,297.33 494.10,294.83 494.33,295.44 494.57,302.37 494.81,296.29 495.05,295.44 495.29,291.97 495.53,295.31 495.77,292.48 496.00,291.75 496.24,290.88 496.40,289.94 496.48,291.51 496.72,290.54 496.96,292.52 497.20,297.42 497.44,292.02 497.67,298.85 497.91,299.02 498.15,296.70 498.39,297.28 498.63,296.16 498.87,302.41 499.11,297.83 499.34,297.93 499.58,299.69 499.82,300.92 500.06,298.92 500.30,298.18 500.54,297.86 500.78,294.44 501.02,296.13 501.25,297.69 501.49,298.31 501.73,296.53 501.97,296.01 502.21,297.41 502.45,295.98 502.69,296.36 502.92,296.93 503.16,297.37 503.40,293.94 503.56,292.72 503.64,297.71 503.88,296.17 504.12,297.83 504.36,295.97 504.59,298.61 504.83,299.46 505.07,298.43 505.31,297.53 505.55,299.05 505.79,303.26 506.03,301.15 506.26,300.67 506.50,301.89 506.74,301.55 506.98,301.00 507.22,303.16 507.46,299.89 507.70,299.23 507.94,301.05 508.17,302.02 508.41,298.61 508.65,301.98 508.89,299.66 509.13,299.31 509.37,301.48 509.61,301.02 509.84,302.11 510.08,296.80 510.32,298.40 510.56,298.53 510.80,297.68 511.04,301.70 511.28,299.83 511.51,299.94 511.75,301.18 511.99,296.33 512.23,298.61 512.47,299.39 512.71,303.56 512.95,297.74 513.18,294.96 513.42,298.18 513.66,294.73 513.90,297.85 514.14,296.12 514.38,299.01 514.62,299.37 514.86,297.25 515.09,299.07 515.33,295.78 515.57,293.71 515.81,289.76 516.05,288.00 516.29,291.53 516.53,292.33 516.76,288.91 517.00,295.41 517.24,294.62 517.48,298.18 517.72,298.50 517.96,297.04 518.20,296.61 518.43,297.76 518.67,299.56 518.91,298.25 519.15,300.52 519.39,299.78 519.63,301.74 519.87,300.00 520.10,299.38 520.34,298.47 520.58,300.85 520.82,300.28 521.06,300.65 521.30,298.14 521.54,298.22 521.78,298.09 522.01,299.33 522.25,295.12 522.49,299.87 522.73,298.56 522.97,300.29 523.21,300.22 523.45,301.40 523.68,298.63 523.92,295.54 524.16,299.08 524.40,299.44 524.64,294.41 524.88,294.61 525.12,294.99 525.35,292.63 525.59,291.22 525.83,290.57 526.07,286.43 526.31,285.86 526.55,282.94 526.79,277.88 527.02,275.75 527.26,279.66 527.50,283.79 527.74,281.29 527.98,287.96 528.22,287.10 528.46,292.74 528.70,292.51 528.93,295.45 529.17,291.42 529.41,295.11 529.65,295.28 529.89,292.73 530.13,292.83 530.37,292.05 530.60,295.69 530.84,294.76 531.08,295.16 531.32,294.32 531.56,298.99 531.80,298.51 532.04,298.37 532.27,299.07 532.51,295.76 532.75,295.72 532.99,298.93 533.23,297.38 533.47,295.16 533.71,293.35 533.94,294.35 534.18,290.64 534.42,292.08 534.66,293.92 534.90,294.84 535.14,298.71 535.38,299.05 535.62,296.56 535.85,298.15 536.09,299.53 536.33,297.62 536.57,295.33 536.81,301.27 537.05,298.10 537.29,298.38 537.52,299.82 537.76,302.39 538.00,300.17 538.24,302.51 538.48,299.53 538.72,299.17 538.96,298.30 539.19,300.77 539.43,301.65 539.67,300.47 539.91,303.53 540.15,300.74 540.39,301.78 540.63,301.05 540.86,301.11 541.10,300.77 541.34,302.60 541.58,300.21 541.82,303.68 542.06,301.21 542.30,303.16 542.54,299.36 542.77,300.77 543.01,304.53 543.25,301.83 543.49,298.13 543.73,300.40 543.97,299.71 544.21,299.15 544.44,299.73 544.68,301.15 544.92,300.48 545.16,301.17 545.40,302.02 545.64,302.24 545.88,300.75 546.11,298.47 546.35,299.67 546.59,302.91 546.83,300.96 547.07,304.90 547.31,301.87 547.55,303.42 547.78,301.28 548.02,302.56 548.26,304.38 548.50,301.96 548.74,300.38 548.98,304.93 549.22,299.21 549.46,297.30 549.69,297.58 549.93,302.85 550.17,299.04 550.41,299.66 550.65,297.96 550.89,299.53 551.13,298.67 551.36,298.57 551.60,297.78 551.84,295.77 552.08,297.80 552.32,296.72 552.56,292.56 552.80,294.92 553.03,292.87 553.27,289.51 553.51,291.12 553.75,285.75 553.99,291.41 554.07,287.13 554.23,287.73 554.47,286.89 554.70,292.55 554.94,292.72 555.18,291.88 555.42,295.91 555.66,296.04 555.90,295.57 556.14,296.55 556.38,298.01 556.61,296.77 556.85,294.83 557.09,298.55 557.33,299.42 557.57,294.95 557.81,298.56 558.05,296.87 558.28,298.40 558.52,297.81 558.76,297.06 558.84,294.88 559.00,296.70 559.24,295.95 559.48,295.76 559.72,297.28 559.95,297.13 560.19,298.57 560.43,300.21 560.67,297.05 560.91,299.03 561.15,298.51 561.39,300.06 561.62,301.94 561.86,301.77 562.10,296.85 562.34,301.35 562.58,301.26 562.82,299.51 563.06,301.05 563.30,302.39 563.53,298.82 563.77,301.33 564.01,301.57 564.25,300.10 564.49,301.26 564.73,302.05 564.97,305.64 565.20,305.11 565.44,303.21 565.68,301.35 565.92,301.13 566.16,303.67 566.40,299.27 566.64,301.27 566.87,299.35 567.11,300.63 567.35,304.01 567.59,300.13 567.83,301.64 568.07,300.92 568.31,303.34 568.54,304.31 568.78,301.42 569.02,302.28 569.26,300.93 569.50,303.16 569.74,302.15 569.98,299.09 570.22,301.43 570.45,300.12 570.69,300.07 570.93,303.72 571.17,298.81 571.41,302.73 571.65,301.50 571.89,300.21 572.12,300.80 572.36,300.14 572.60,295.32 572.84,296.12 573.08,297.47 573.32,297.34 573.56,294.07 573.79,299.08 574.03,296.20 574.27,298.39 574.51,297.86 574.75,296.78 574.99,300.63 575.23,298.50 575.46,302.57 575.70,300.32 575.94,298.69 576.18,300.10 576.42,302.57 576.66,298.67 576.90,302.62 577.14,299.76 577.37,297.74 577.61,298.37 577.85,298.53 578.09,298.77 578.33,299.61 578.57,297.44 578.81,295.48 579.04,294.17 579.28,293.80 579.52,295.53 579.76,293.49 580.00,293.65 580.24,295.25 580.48,299.13 580.71,297.89 580.95,298.74 581.19,298.28 581.43,300.35 581.67,298.35 581.91,302.18 582.15,302.68 582.38,302.05 582.62,299.45 582.86,300.26 583.10,299.67 583.34,298.91 583.58,303.90 583.82,303.20 584.06,297.36 584.29,298.93 584.53,300.47 584.77,301.28 585.01,302.50 585.25,303.29 585.49,300.92 585.73,302.14 585.96,300.13 586.20,297.61 586.44,301.80 586.68,297.92 586.92,300.12 587.16,299.06 587.40,301.93 587.63,301.94 587.87,300.97 588.11,301.86 588.35,300.86 588.59,300.10 588.83,303.28 589.07,305.97 589.30,300.69 589.54,304.34 589.78,305.78 590.02,301.87 590.26,302.98 590.50,301.04 590.74,301.46 590.98,302.45 591.21,299.76 591.45,304.76 591.69,303.60 591.93,302.96 592.17,301.39 592.41,303.69 592.65,304.09 592.88,305.16 593.12,304.74 593.36,302.40 593.60,302.44 593.84,302.97 594.08,303.65 594.32,302.46 594.55,303.32 594.79,302.47 595.03,301.47 595.27,302.43 595.51,301.52 595.75,302.51 595.99,301.45 596.22,304.01 596.46,302.57 596.70,302.23 596.94,304.73 597.18,301.83 597.42,302.98 597.66,301.17 597.90,302.83 598.13,300.12 598.37,300.34 598.61,302.32 598.85,300.54 599.09,301.22 599.33,300.63 599.57,299.97 599.80,301.34 600.04,300.65 600.28,300.38 600.52,302.95 600.76,300.59 601.00,300.43 601.24,300.19 601.47,300.12 601.71,302.13 601.95,299.48 602.19,303.23 602.43,302.51 602.67,303.70 602.91,303.17 603.14,302.63 603.38,302.71 603.62,303.13 603.86,303.92 604.10,305.59 604.34,303.73 604.58,302.68 604.82,304.40 605.05,302.67 605.29,302.70 605.53,302.46 605.77,304.09 606.01,302.96 606.25,303.31 606.49,302.63 606.72,299.80 606.96,302.87 607.20,300.75 607.44,299.51 607.68,302.18 607.76,300.58 607.92,302.44 608.16,300.18 608.39,302.86 608.63,302.04 608.87,299.51 609.11,300.93 609.35,304.60 609.59,304.87 609.83,306.64 610.06,304.00 610.30,304.52 610.54,304.59 610.78,304.63 611.02,305.26 611.26,305.60 611.50,304.07 611.74,305.97 611.97,304.88 612.21,304.42 612.45,303.24 612.69,303.32 612.93,303.49 613.17,304.25 613.41,306.10 613.64,306.42 613.88,305.66 614.12,307.19 614.36,305.32 614.60,306.19 614.84,306.76 615.08,306.39 615.31,307.03 615.55,305.20 615.79,304.89 616.03,307.78 616.27,305.60 616.51,304.02 616.75,305.83 616.98,306.79 617.22,306.02 617.46,305.87 617.70,305.47 617.94,305.00 618.18,308.73 618.42,307.18 618.65,305.94 618.89,305.24 619.13,307.20 619.37,306.44 619.61,306.74 619.85,306.68 620.09,308.18 620.33,307.96 620.56,304.06 620.80,304.83 621.04,304.18 621.28,304.92 621.52,304.71 621.76,306.50 622.00,306.71 622.23,305.24 622.47,305.28 622.71,304.49 622.95,303.32 623.19,304.77 623.43,305.57 623.67,304.50 623.90,306.19 624.14,305.93 624.38,303.63 624.62,305.50 624.86,306.99 625.10,308.00 625.34,306.33 625.57,306.64 625.81,305.84 626.05,307.76 626.29,307.74 626.53,306.91 626.77,305.74 627.01,306.42 627.25,304.25 627.48,304.88 627.72,304.26 627.96,306.58 628.20,307.30 628.44,303.90 628.68,306.90 628.92,306.78 629.15,304.05 629.39,306.09 629.63,306.50 629.87,306.80 630.11,305.50 630.35,307.49 630.59,307.63 630.82,307.51 631.06,307.16 631.30,305.61 631.54,308.27 631.78,309.83 632.02,307.86 632.26,308.74 632.49,306.21 632.73,309.37 632.97,306.30 633.21,307.08 633.45,307.82 633.69,307.06 633.93,306.33 634.17,306.82 634.40,306.85 634.64,308.72 634.88,304.40 635.12,304.77 635.36,306.71 635.60,306.10 635.84,307.72 636.07,306.03 636.31,304.51 636.55,306.61 636.79,305.92 637.03,306.02 637.27,308.40 637.51,310.27 637.74,307.55 637.98,307.90 638.22,309.72 638.46,305.85 638.70,307.40 638.94,307.49 639.18,307.47 639.41,310.25 639.65,307.24 639.89,305.14 640.13,305.90 640.37,307.65 640.61,306.00 640.85,309.03 641.09,306.29 641.32,307.40 641.56,307.44 641.80,307.53 642.04,307.38 642.28,306.97 642.52,307.59 642.76,309.98 642.99,308.88 643.23,309.32 643.47,308.76 643.71,307.23 643.95,310.34 644.19,309.64 644.43,308.60 644.66,308.72 644.90,307.54 645.14,309.26 645.38,308.98 645.62,310.54 645.86,307.48 646.10,307.68 646.33,306.76 646.57,307.62 646.81,308.97 647.05,307.56 647.29,308.02 647.53,307.67 647.77,309.96 648.01,308.64 648.24,306.91 648.48,307.84 648.72,310.47 648.96,309.71 649.20,309.88 649.44,309.53 649.68,308.93 649.91,309.25 650.15,310.60 650.39,310.25 650.63,308.79 650.87,308.96 651.11,311.22 651.35,311.36 651.58,309.29 651.82,310.10 652.06,308.14 652.30,308.40 652.54,308.43 652.78,311.74 653.02,307.76 653.25,309.75 653.49,310.39 653.73,310.46 653.97,310.02 654.21,308.77 654.45,308.36 654.69,308.53 654.93,309.22 655.16,308.66 655.40,307.45 655.64,309.50 655.88,308.33 656.12,310.18 656.36,311.88 656.60,313.06 656.83,309.62 657.07,308.53 657.31,307.24 657.55,309.85 657.79,309.45 658.03,309.72 658.27,307.81 658.50,308.41 658.74,310.79 658.98,309.87 659.22,309.21 659.46,309.04 659.70,306.93 659.94,310.48 660.17,309.52 660.41,308.97 660.65,310.13 660.89,309.64 661.13,309.67 661.37,307.12 661.61,309.83 661.85,308.21 662.08,308.61 662.32,311.06 662.56,310.48 662.80,310.59 663.04,307.22 663.28,310.14 663.52,307.40 663.75,306.28 663.99,309.71 664.23,309.44 664.47,309.71 664.71,311.36 664.95,309.40 665.19,310.09 665.42,309.27 665.66,308.98 665.90,309.86 666.14,311.55 666.38,310.80 666.62,311.95 666.86,310.55 667.09,309.85 667.33,309.63 667.57,307.15 667.81,308.16 668.05,309.64 668.29,310.41 668.53,309.25 668.77,311.78 669.00,308.47 669.24,312.69 669.48,309.19 669.72,310.99 669.96,309.33 670.20,310.60 670.44,310.30 670.67,309.14 670.91,307.44 671.15,307.09 671.39,308.47" stroke="#ff7f0e" stroke-width="1.25"/>
<polyline points="376.69,447.44 376.93,449.14 377.17,449.86 377.41,448.45 377.65,447.74 377.89,449.10 378.13,449.74 378.36,450.46 378.60,448.25 378.84,448.27 379.08,450.37 379.32,450.24 379.56,451.40 379.80,450.95 380.03,449.96 380.27,449.89 380.51,452.83 380.75,450.07 380.99,449.68 381.23,449.40 381.47,450.69 381.71,450.80 381.94,450.37 382.18,450.71 382.42,451.11 382.66,451.59 382.90,452.05 383.14,451.22 383.38,449.28 383.61,451.84 383.85,449.77 384.09,451.08 384.33,449.84 384.57,451.37 384.81,450.65 385.05,451.71 385.28,454.85 385.52,451.56 385.76,452.51 386.00,450.41 386.24,451.50 386.48,452.51 386.72,451.82 386.95,452.34 387.19,452.13 387.43,451.08 387.67,452.71 387.91,451.39 388.15,454.13 388.39,451.82 388.63,453.07 388.86,452.44 389.10,453.44 389.34,451.90 389.58,453.52 389.82,452.41 390.06,453.82 390.30,453.19 390.53,452.73 390.77,451.82 391.01,453.38 391.25,453.09 391.49,454.27 391.73,452.25 391.97,453.17 392.20,453.09 392.44,452.79 392.68,452.48 392.92,451.80 393.16,449.70 393.40,447.58 393.60,447.51 393.64,448.53 393.87,450.70 394.11,451.88 394.35,453.09 394.59,453.33 394.83,453.46 395.07,453.04 395.31,453.69 395.55,454.74 395.78,452.68 396.02,452.35 396.26,455.03 396.50,453.35 396.74,454.10 396.98,454.03 397.22,452.04 397.45,455.63 397.69,455.00 397.93,453.42 398.17,454.02 398.41,453.41 398.65,452.42 398.89,453.21 399.12,453.71 399.36,454.47 399.60,454.08 399.84,453.45 400.08,454.75 400.32,452.65 400.56,454.20 400.79,454.53 401.03,453.11 401.27,451.59 401.51,452.44 401.75,453.52 401.99,453.71 402.23,454.50 402.47,451.31 402.70,450.71 402.94,448.32 403.18,444.01 403.34,440.81 403.42,444.25 403.66,448.78 403.90,450.91 404.14,451.09 404.37,452.50 404.61,453.47 404.85,455.90 405.09,454.12 405.33,453.68 405.57,455.17 405.81,453.57 406.04,455.55 406.28,453.02 406.52,453.26 406.76,454.47 407.00,455.19 407.24,454.43 407.48,454.09 407.71,451.98 407.95,453.09 408.19,453.20 408.43,453.28 408.67,454.38 408.91,453.46 409.15,454.57 409.39,453.86 409.62,453.43 409.86,453.86 410.10,454.14 410.34,454.54 410.58,453.15 410.82,453.33 411.06,452.12 411.29,454.97 411.53,454.66 411.77,452.80 412.01,452.17 412.25,450.89 412.49,451.30 412.73,448.72 412.96,442.95 413.20,423.64 413.44,399.81 413.60,391.15 413.68,396.87 413.92,415.81 414.16,434.49 414.40,446.85 414.63,448.83 414.87,455.22 415.11,453.45 415.35,453.24 415.59,452.69 415.83,450.84 416.07,452.89 416.31,451.43 416.54,453.48 416.78,450.56 417.02,451.47 417.26,453.07 417.50,452.46 417.74,446.83 417.98,438.18 418.21,421.95 418.45,397.43 418.61,388.08 418.69,390.39 418.93,412.05 419.17,433.54 419.41,445.37 419.65,451.28 419.88,451.84 420.12,453.08 420.36,449.64 420.60,447.46 420.84,445.45 421.08,447.83 421.32,449.17 421.55,450.51 421.79,453.87 422.03,454.98 422.27,454.54 422.51,455.14 422.75,454.13 422.99,453.21 423.23,454.06 423.46,453.63 423.70,452.91 423.94,452.35 424.18,452.57 424.42,454.05 424.66,454.21 424.90,453.58 425.13,455.47 425.37,454.20 425.61,454.58 425.85,455.19 426.09,453.10 426.33,451.89 426.57,454.53 426.80,452.97 427.04,454.78 427.28,453.42 427.52,453.11 427.76,450.43 428.00,443.04 428.24,440.61 428.40,437.70 428.47,437.99 428.71,442.67 428.95,448.83 429.19,451.92 429.43,453.22 429.67,450.86 429.91,451.91 430.15,449.93 430.38,451.86 430.62,452.02 430.86,449.80 431.10,449.28 431.34,445.71 431.58,436.88 431.82,412.67 432.05,375.94 432.29,343.74 432.37,343.40 432.53,353.41 432.77,389.72 433.01,422.60 433.25,439.62 433.49,445.99 433.72,446.71 433.96,444.89 434.20,440.28 434.44,437.04 434.60,438.46 434.68,437.76 434.92,441.19 435.16,445.86 435.39,449.82 435.63,452.16 435.87,452.13 436.11,453.42 436.35,453.73 436.59,452.91 436.83,453.01 437.07,452.90 437.30,452.91 437.54,454.94 437.78,451.74 438.02,453.88 438.26,453.57 438.50,453.59 438.74,454.33 438.97,455.38 439.21,454.34 439.45,454.14 439.69,453.67 439.93,454.15 440.17,455.18 440.41,453.87 440.64,453.09 440.88,452.95 441.12,453.06 441.36,452.73 441.60,455.15 441.84,454.31 442.08,453.59 442.31,455.10 442.55,452.74 442.79,453.76 443.03,453.17 443.27,449.43 443.51,445.45 443.75,435.68 443.99,418.57 444.22,401.06 444.30,396.91 444.46,405.29 444.70,424.32 444.94,440.66 445.18,448.27 445.42,451.27 445.66,450.81 445.89,452.15 446.13,452.25 446.37,454.20 446.61,455.95 446.85,456.70 447.09,453.71 447.33,452.38 447.56,453.72 447.80,453.20 448.04,456.12 448.28,454.69 448.52,453.34 448.76,454.94 449.00,454.45 449.23,452.17 449.47,453.09 449.71,453.12 449.95,452.90 450.19,451.91 450.43,448.87 450.67,444.68 450.91,438.36 451.06,436.10 451.14,438.54 451.38,439.78 451.62,439.36 451.86,426.21 452.10,403.25 452.34,380.44 452.42,376.19 452.58,386.94 452.81,413.22 453.05,436.14 453.29,446.06 453.53,450.01 453.77,452.03 454.01,450.21 454.25,450.51 454.48,444.55 454.72,439.32 454.96,437.08 455.04,435.02 455.20,437.08 455.44,443.41 455.68,448.82 455.92,449.23 456.15,453.24 456.39,455.40 456.63,455.07 456.87,453.83 457.11,453.61 457.35,454.01 457.59,453.22 457.83,454.16 458.06,454.28 458.30,454.34 458.54,455.68 458.78,454.26 459.02,453.00 459.26,455.45 459.50,453.23 459.73,453.68 459.97,453.54 460.21,452.10 460.45,448.57 460.69,444.60 460.93,442.88 461.01,439.72 461.17,441.57 461.40,447.67 461.64,451.50 461.88,453.74 462.12,454.71 462.36,452.18 462.60,453.39 462.84,454.41 463.07,454.71 463.31,455.24 463.55,453.62 463.79,450.92 464.03,447.65 464.27,443.79 464.39,443.62 464.51,444.69 464.75,447.31 464.98,450.41 465.22,452.40 465.46,455.19 465.70,455.68 465.94,455.53 466.18,455.48 466.42,455.50 466.65,454.69 466.89,455.37 467.13,453.66 467.37,454.51 467.61,453.97 467.85,455.41 468.09,454.07 468.32,454.51 468.56,454.97 468.80,455.85 469.04,453.62 469.28,453.37 469.52,454.98 469.76,452.86 469.99,454.17 470.23,452.80 470.47,452.76 470.71,450.28 470.95,451.45 471.19,446.95 471.43,437.08 471.67,417.59 471.90,381.63 472.14,363.49 472.38,381.24 472.62,414.97 472.86,437.72 473.10,448.34 473.34,449.30 473.57,449.87 473.81,448.83 474.05,445.83 474.29,446.00 474.33,445.39 474.53,445.53 474.77,449.78 475.01,451.74 475.24,452.73 475.48,452.70 475.72,452.11 475.96,454.86 476.20,454.43 476.44,452.95 476.68,454.65 476.91,453.24 477.15,454.78 477.39,454.98 477.63,455.21 477.87,455.08 478.11,455.04 478.35,453.72 478.59,454.45 478.82,454.29 479.06,454.51 479.30,454.91 479.54,455.10 479.78,455.76 480.02,450.63 480.26,451.26 480.49,446.28 480.73,443.70 480.89,440.90 480.97,438.67 481.21,444.94 481.45,448.76 481.69,452.90 481.93,451.21 482.16,450.61 482.40,447.70 482.64,445.57 482.68,445.03 482.88,445.04 483.12,450.32 483.36,452.97 483.60,452.23 483.83,449.45 484.07,446.52 484.31,441.97 484.47,439.85 484.55,440.41 484.79,446.18 485.03,448.58 485.27,452.15 485.51,452.10 485.74,453.80 485.98,453.97 486.22,453.87 486.46,454.21 486.70,456.75 486.94,454.78 487.18,454.88 487.41,457.18 487.65,454.91 487.89,453.20 488.13,455.28 488.37,453.85 488.61,456.29 488.85,453.16 489.08,453.33 489.32,451.25 489.56,450.87 489.80,446.29 490.04,442.72 490.28,438.43 490.44,437.21 490.52,439.02 490.75,442.16 490.99,445.85 491.23,448.74 491.47,451.02 491.71,453.57 491.95,456.05 492.19,452.90 492.43,451.59 492.66,450.01 492.90,447.60 493.14,446.34 493.22,447.01 493.38,449.13 493.62,449.55 493.86,451.13 494.10,451.64 494.33,454.44 494.57,454.69 494.81,453.73 495.05,453.99 495.29,455.09 495.53,456.18 495.77,455.80 496.00,455.36 496.24,454.72 496.48,455.08 496.72,454.18 496.96,455.39 497.20,450.81 497.44,450.46 497.60,451.82 497.67,450.37 497.91,452.97 498.15,452.82 498.39,454.13 498.63,454.34 498.87,453.72 499.11,454.31 499.34,457.57 499.58,456.04 499.82,456.00 500.06,456.31 500.30,455.80 500.54,455.97 500.78,454.12 501.02,453.29 501.25,453.46 501.49,451.41 501.57,450.38 501.73,451.72 501.97,452.32 502.21,454.52 502.45,453.98 502.69,454.13 502.92,455.11 503.16,457.12 503.40,455.58 503.64,455.83 503.88,455.71 504.12,456.02 504.36,456.44 504.59,456.81 504.83,454.55 505.07,456.82 505.31,455.80 505.55,455.58 505.79,457.63 506.03,455.71 506.26,457.30 506.50,456.58 506.74,455.09 506.98,456.23 507.22,456.43 507.46,455.79 507.70,454.14 507.94,455.63 508.17,455.75 508.41,455.07 508.65,457.28 508.89,455.73 509.13,455.62 509.37,455.69 509.61,455.32 509.84,455.33 510.08,455.97 510.32,456.13 510.56,455.49 510.80,455.77 511.04,454.70 511.28,455.95 511.51,454.64 511.75,454.81 511.99,453.32 512.23,453.17 512.31,453.68 512.47,452.75 512.71,456.08 512.95,454.85 513.18,455.33 513.42,455.13 513.66,457.03 513.90,456.95 514.14,456.18 514.38,454.95 514.62,455.62 514.86,456.47 515.09,455.63 515.33,455.13 515.57,455.13 515.81,455.44 516.05,456.02 516.29,455.51 516.53,455.98 516.76,458.01 517.00,457.12 517.24,454.75 517.48,455.29 517.72,454.32 517.96,453.24 518.20,453.50 518.28,452.42 518.43,452.62 518.67,453.39 518.91,454.50 519.15,456.24 519.39,456.28 519.63,454.91 519.87,455.69 520.10,455.48 520.34,456.72 520.58,456.31 520.82,456.83 521.06,456.13 521.30,454.76 521.54,456.54 521.78,456.39 522.01,456.61 522.25,455.26 522.49,456.30 522.73,455.74 522.97,455.74 523.21,456.53 523.45,456.54 523.68,455.61 523.92,455.00 524.16,454.44 524.40,455.87 524.64,457.15 524.88,456.27 525.12,454.63 525.35,455.68 525.59,456.65 525.83,457.59 526.07,457.22 526.31,456.62 526.55,456.50 526.79,455.56 527.02,456.02 527.26,456.12 527.50,455.79 527.74,456.42 527.98,456.08 528.22,456.63 528.46,457.46 528.70,456.94 528.93,456.70 529.17,456.21 529.41,455.25 529.65,456.30 529.89,456.79 530.13,455.62 530.37,457.30 530.60,456.09 530.84,456.56 531.08,455.90 531.32,454.95 531.56,457.02 531.80,454.03 532.04,455.10 532.19,453.87 532.27,454.53 532.51,454.12 532.75,454.99 532.99,456.48 533.23,457.57 533.47,455.64 533.71,456.37 533.94,457.11 534.18,455.95 534.42,456.97 534.66,455.86 534.90,456.91 535.14,456.79 535.38,457.37 535.62,456.74 535.85,455.57 536.09,456.97 536.33,455.65 536.57,457.03 536.81,457.60 537.05,456.91 537.29,456.05 537.52,457.35 537.76,456.58 538.00,455.50 538.24,456.15 538.48,457.46 538.72,456.11 538.96,456.30 539.19,455.71 539.43,454.26 539.67,454.50 539.91,454.50 540.15,454.08 540.39,454.10 540.63,453.29 540.86,456.44 541.10,456.51 541.34,456.99 541.58,457.33 541.82,456.08 542.06,455.99 542.30,456.70 542.54,457.73 542.77,455.22 543.01,456.32 543.25,455.97 543.49,456.93 543.73,457.61 543.97,456.30 544.21,455.59 544.44,456.56 544.68,456.31 544.92,455.37 545.16,457.20 545.40,456.14 545.64,457.05 545.88,455.55 546.11,457.36 546.35,455.46 546.59,457.33 546.83,455.18 547.07,457.58 547.31,456.26 547.55,455.37 547.78,456.36 548.02,456.79 548.26,455.80 548.50,456.17 548.74,456.74 548.98,456.40 549.22,454.23 549.46,456.20 549.69,456.83 549.93,456.72 550.17,457.24 550.41,455.94 550.65,458.32 550.89,456.89 551.13,456.30 551.36,456.47 551.60,455.78 551.84,454.54 552.08,453.71 552.32,455.23 552.56,455.39 552.80,454.24 553.03,455.24 553.27,456.65 553.51,456.50 553.75,456.68 553.99,456.98 554.23,456.63 554.47,457.72 554.70,456.10 554.94,456.25 555.18,456.80 555.42,457.12 555.66,457.15 555.90,457.68 556.14,456.21 556.38,457.45 556.61,456.92 556.85,455.79 557.09,456.47 557.33,458.14 557.57,457.16 557.81,456.21 558.05,454.76 558.28,456.00 558.52,456.00 558.76,456.55 559.00,458.13 559.24,456.79 559.48,456.20 559.72,454.95 559.95,454.54 560.03,455.26 560.19,455.13 560.43,458.01 560.67,455.76 560.91,455.84 561.15,457.29 561.39,456.58 561.62,455.63 561.86,457.54 562.10,456.35 562.34,455.60 562.58,456.84 562.82,456.97 563.06,456.36 563.30,457.14 563.53,457.23 563.77,455.96 564.01,455.08 564.25,454.83 564.49,456.53 564.73,457.55 564.97,457.38 565.20,457.68 565.44,458.03 565.68,456.65 565.92,457.43 566.16,455.49 566.40,457.16 566.64,456.94 566.87,456.57 567.11,456.31 567.35,455.81 567.59,456.75 567.83,457.61 568.07,456.38 568.31,457.05 568.54,456.15 568.78,456.84 569.02,455.90 569.26,456.94 569.50,456.49 569.74,456.90 569.98,456.21 570.22,455.78 570.45,456.42 570.69,457.44 570.93,457.85 571.17,456.42 571.41,457.27 571.65,457.24 571.89,456.96 572.12,455.74 572.36,456.87 572.60,456.09 572.84,457.38 573.08,457.15 573.32,457.05 573.56,455.16 573.79,457.05 574.03,457.10 574.27,455.91 574.51,457.26 574.75,456.73 574.99,456.57 575.23,456.26 575.46,456.07 575.70,456.43 575.94,458.54 576.18,456.81 576.42,456.81 576.66,456.30 576.90,456.32 577.14,456.36 577.37,456.16 577.61,457.22 577.85,456.53 578.09,457.22 578.33,456.01 578.57,457.26 578.81,456.68 579.04,457.10 579.28,456.64 579.52,456.17 579.76,457.43 580.00,456.44 580.24,456.62 580.48,456.18 580.71,456.83 580.95,456.48 581.19,456.88 581.43,456.92 581.67,456.30 581.91,455.87 582.15,456.97 582.38,457.27 582.62,457.13 582.86,456.03 583.10,457.08 583.34,456.95 583.58,456.89 583.82,456.98 584.06,456.53 584.29,456.85 584.53,457.28 584.77,456.42 585.01,455.86 585.25,456.67 585.49,456.85 585.73,455.62 585.96,456.33 586.20,457.09 586.44,456.64 586.68,456.79 586.92,455.98 587.16,457.28 587.40,457.79 587.63,456.62 587.87,456.30 588.11,456.05 588.35,457.28 588.59,456.81 588.83,456.27 589.07,457.47 589.30,457.20 589.54,457.11 589.78,455.69 590.02,456.69 590.26,457.13 590.50,456.02 590.74,457.31 590.98,457.61 591.21,457.37 591.45,456.32 591.69,456.33 591.93,457.32 592.17,457.36 592.41,457.50 592.65,457.48 592.88,456.70 593.12,456.52 593.36,455.65 593.60,457.24 593.84,458.13 594.08,456.49 594.32,456.48 594.55,457.16 594.79,456.99 595.03,455.95 595.27,456.34 595.51,456.11 595.75,457.99 595.99,456.34 596.22,457.29 596.46,457.93 596.70,457.91 596.94,457.63 597.18,457.76 597.42,456.04 597.66,456.57 597.90,456.35 598.13,456.61 598.37,458.36 598.61,455.78 598.85,457.12 599.09,456.05 599.33,457.59 599.57,457.57 599.80,456.48 600.04,458.03 600.28,456.84 600.52,457.58 600.76,456.98 601.00,456.46 601.24,456.57 601.47,456.73 601.71,457.17 601.95,456.88 602.19,458.22 602.43,456.69 602.67,456.52 602.91,456.37 603.14,456.34 603.38,455.94 603.62,456.22 603.86,457.35 604.10,456.85 604.34,456.71 604.58,457.02 604.82,457.45 605.05,457.18 605.29,457.28 605.53,456.48 605.77,456.66 606.01,456.35 606.25,456.76 606.49,456.33 606.72,456.60 606.96,456.72 607.20,456.69 607.44,456.66 607.68,456.53 607.92,457.61 608.16,456.62 608.39,456.22 608.63,456.95 608.87,456.18 609.11,456.19 609.35,456.88 609.59,455.83 609.83,454.90 610.06,457.01 610.30,457.46 610.54,455.84 610.78,456.30 611.02,457.19 611.26,455.65 611.50,456.32 611.74,456.12 611.97,456.72 612.21,455.66 612.45,457.38 612.69,456.76 612.93,457.03 613.17,456.65 613.41,455.58 613.64,456.76 613.88,456.05 614.12,456.86 614.36,456.34 614.60,456.67 614.84,456.73 615.08,457.32 615.31,457.32 615.55,456.26 615.79,456.85 616.03,457.74 616.27,457.16 616.51,456.43 616.75,456.79 616.98,456.66 617.22,457.43 617.46,456.89 617.70,457.09 617.94,458.20 618.18,456.04 618.42,456.26 618.65,455.83 618.89,455.92 619.13,457.39 619.37,457.05 619.61,457.86 619.85,455.69 620.09,456.35 620.33,457.75 620.56,457.50 620.80,457.41 621.04,457.41 621.28,456.90 621.52,456.88 621.76,456.91 622.00,457.39 622.23,456.79 622.47,457.08 622.71,457.76 622.95,456.22 623.19,456.44 623.43,457.23 623.67,456.74 623.90,456.80 624.14,458.16 624.38,457.15 624.62,456.65 624.86,457.56 625.10,458.41 625.34,456.24 625.57,456.50 625.81,456.97 626.05,456.52 626.29,458.21 626.53,457.22 626.77,456.67 627.01,457.20 627.25,456.43 627.48,456.55 627.72,456.98 627.96,458.35 628.20,455.56 628.44,457.17 628.68,457.73 628.92,457.36 629.15,458.07 629.39,457.19 629.63,457.01 629.87,456.84 630.11,456.41 630.35,457.90 630.59,456.21 630.82,456.85 631.06,456.61 631.30,456.46 631.54,455.59 631.78,456.70 632.02,457.01 632.26,457.02 632.49,457.44 632.73,456.84 632.97,456.55 633.21,457.12 633.45,457.34 633.69,456.40 633.93,456.03 634.17,456.32 634.40,457.58 634.64,457.54 634.88,456.41 635.12,457.01 635.36,457.45 635.60,457.74 635.84,456.55 636.07,456.80 636.31,457.79 636.55,458.40 636.79,457.87 637.03,456.27 637.27,457.22 637.51,456.77 637.74,456.92 637.98,456.56 638.22,456.67 638.46,456.95 638.70,458.04 638.94,457.38 639.18,457.22 639.41,456.98 639.65,456.51 639.89,456.83 640.13,457.71 640.37,457.46 640.61,458.15 640.85,457.12 641.09,456.96 641.32,456.00 641.56,457.21 641.80,455.94 642.04,457.89 642.28,456.60 642.52,456.98 642.76,456.17 642.99,456.68 643.23,456.42 643.47,457.66 643.71,457.13 643.95,456.27 644.19,455.82 644.43,456.94 644.66,456.69 644.90,456.32 645.14,457.34 645.38,456.88 645.62,457.06 645.86,456.64 646.10,456.65 646.33,456.72 646.57,456.03 646.81,457.37 647.05,457.24 647.29,455.96 647.53,457.06 647.77,457.69 648.01,457.14 648.24,457.78 648.48,456.84 648.72,457.00 648.96,456.22 649.20,456.46 649.44,455.91 649.68,456.47 649.91,457.15 650.15,457.32 650.39,457.71 650.63,457.09 650.87,456.42 651.11,457.27 651.35,456.93 651.58,458.09 651.82,458.19 652.06,457.59 652.30,456.34 652.54,456.70 652.78,457.13 653.02,456.59 653.25,457.34 653.49,457.43 653.73,457.53 653.97,457.16 654.21,456.50 654.45,456.52 654.69,456.95 654.93,457.83 655.16,457.97 655.40,457.62 655.64,457.25 655.88,457.44 656.12,457.53 656.36,457.81 656.60,457.55 656.83,456.12 657.07,457.61 657.31,457.27 657.55,456.76 657.79,457.36 658.03,457.22 658.27,457.01 658.50,456.03 658.74,457.11 658.98,457.38 659.22,457.02 659.46,456.10 659.70,457.32 659.94,457.48 660.17,457.16 660.41,457.31 660.65,456.84 660.89,456.66 661.13,457.37 661.37,456.84 661.61,457.17 661.85,459.01 662.08,457.49 662.32,457.14 662.56,456.09 662.80,457.12 663.04,457.52 663.28,456.64 663.52,456.92 663.75,455.71 663.99,457.40 664.23,456.71 664.47,457.48 664.71,457.89 664.95,456.98 665.19,457.66 665.42,457.22 665.66,456.95 665.90,456.91 666.14,456.57 666.38,457.85 666.62,457.61 666.86,456.48 667.09,457.59 667.33,456.64 667.57,456.18 667.81,457.80 668.05,456.32 668.29,457.80 668.53,457.21 668.77,457.63 669.00,457.40 669.24,457.78 669.48,457.30 669.72,457.44 669.96,457.24 670.20,457.75 670.44,456.86 670.67,457.71 670.91,458.00 671.15,457.06 671.39,457.36" stroke="#a8005a" stroke-width="1.2"/>
</g>
<line x1="180.8" y1="61.8" x2="180.8" y2="317.2" stroke="#222" stroke-width="1.3" stroke-dasharray="2.5 1.9"/>
<g stroke="#000" stroke-width="1.5" fill="none" stroke-linecap="square">
<rect x="35.2" y="24.7" width="294.80" height="447.80"/>
<rect x="375.9" y="24.8" width="295.10" height="450.10"/>
<line x1="375.9" y1="176.0" x2="671.0" y2="176.0"/>
<line x1="375.9" y1="326.0" x2="671.0" y2="326.0"/>
</g>
<g stroke="#000" stroke-width="1.4" stroke-linecap="butt">
<line x1="35.50" y1="472.5" x2="35.50" y2="466.90"/>
<line x1="55.93" y1="472.5" x2="55.93" y2="469.70"/>
<line x1="76.36" y1="472.5" x2="76.36" y2="466.90"/>
<line x1="96.79" y1="472.5" x2="96.79" y2="469.70"/>
<line x1="117.22" y1="472.5" x2="117.22" y2="466.90"/>
<line x1="137.65" y1="472.5" x2="137.65" y2="469.70"/>
<line x1="158.08" y1="472.5" x2="158.08" y2="466.90"/>
<line x1="178.51" y1="472.5" x2="178.51" y2="469.70"/>
<line x1="198.94" y1="472.5" x2="198.94" y2="466.90"/>
<line x1="219.37" y1="472.5" x2="219.37" y2="469.70"/>
<line x1="239.80" y1="472.5" x2="239.80" y2="466.90"/>
<line x1="260.23" y1="472.5" x2="260.23" y2="469.70"/>
<line x1="280.66" y1="472.5" x2="280.66" y2="466.90"/>
<line x1="301.09" y1="472.5" x2="301.09" y2="469.70"/>
<line x1="321.52" y1="472.5" x2="321.52" y2="466.90"/>
<line x1="383.06" y1="474.9" x2="383.06" y2="472.10"/>
<line x1="393.00" y1="474.9" x2="393.00" y2="469.30"/>
<line x1="402.94" y1="474.9" x2="402.94" y2="472.10"/>
<line x1="412.88" y1="474.9" x2="412.88" y2="469.30"/>
<line x1="422.83" y1="474.9" x2="422.83" y2="472.10"/>
<line x1="432.77" y1="474.9" x2="432.77" y2="469.30"/>
<line x1="442.71" y1="474.9" x2="442.71" y2="472.10"/>
<line x1="452.65" y1="474.9" x2="452.65" y2="469.30"/>
<line x1="462.60" y1="474.9" x2="462.60" y2="472.10"/>
<line x1="472.54" y1="474.9" x2="472.54" y2="469.30"/>
<line x1="482.48" y1="474.9" x2="482.48" y2="472.10"/>
<line x1="492.43" y1="474.9" x2="492.43" y2="469.30"/>
<line x1="502.37" y1="474.9" x2="502.37" y2="472.10"/>
<line x1="512.31" y1="474.9" x2="512.31" y2="469.30"/>
<line x1="522.25" y1="474.9" x2="522.25" y2="472.10"/>
<line x1="532.19" y1="474.9" x2="532.19" y2="469.30"/>
<line x1="542.14" y1="474.9" x2="542.14" y2="472.10"/>
<line x1="552.08" y1="474.9" x2="552.08" y2="469.30"/>
<line x1="562.02" y1="474.9" x2="562.02" y2="472.10"/>
<line x1="571.97" y1="474.9" x2="571.97" y2="469.30"/>
<line x1="581.91" y1="474.9" x2="581.91" y2="472.10"/>
<line x1="591.85" y1="474.9" x2="591.85" y2="469.30"/>
<line x1="601.79" y1="474.9" x2="601.79" y2="472.10"/>
<line x1="611.74" y1="474.9" x2="611.74" y2="469.30"/>
<line x1="621.68" y1="474.9" x2="621.68" y2="472.10"/>
<line x1="631.62" y1="474.9" x2="631.62" y2="469.30"/>
<line x1="641.56" y1="474.9" x2="641.56" y2="472.10"/>
<line x1="651.50" y1="474.9" x2="651.50" y2="469.30"/>
<line x1="661.45" y1="474.9" x2="661.45" y2="472.10"/>
<line x1="671.39" y1="474.9" x2="671.39" y2="469.30"/>
</g>
<g font-family="'Liberation Sans', Arial, sans-serif" font-weight="bold" fill="#000">
<text x="34.90" y="488.5" font-size="13" text-anchor="middle">4000</text>
<text x="75.76" y="488.5" font-size="13" text-anchor="middle">3500</text>
<text x="116.62" y="488.5" font-size="13" text-anchor="middle">3000</text>
<text x="157.48" y="488.5" font-size="13" text-anchor="middle">2500</text>
<text x="198.34" y="488.5" font-size="13" text-anchor="middle">2000</text>
<text x="239.20" y="488.5" font-size="13" text-anchor="middle">1500</text>
<text x="280.06" y="488.5" font-size="13" text-anchor="middle">1000</text>
<text x="320.92" y="488.5" font-size="13" text-anchor="middle">500</text>
<text x="393.00" y="491.7" font-size="13" text-anchor="middle">10</text>
<text x="412.88" y="491.7" font-size="13" text-anchor="middle">15</text>
<text x="432.77" y="491.7" font-size="13" text-anchor="middle">20</text>
<text x="452.65" y="491.7" font-size="13" text-anchor="middle">25</text>
<text x="472.54" y="491.7" font-size="13" text-anchor="middle">30</text>
<text x="492.43" y="491.7" font-size="13" text-anchor="middle">35</text>
<text x="512.31" y="491.7" font-size="13" text-anchor="middle">40</text>
<text x="532.19" y="491.7" font-size="13" text-anchor="middle">45</text>
<text x="552.08" y="491.7" font-size="13" text-anchor="middle">50</text>
<text x="571.97" y="491.7" font-size="13" text-anchor="middle">55</text>
<text x="591.85" y="491.7" font-size="13" text-anchor="middle">60</text>
<text x="611.74" y="491.7" font-size="13" text-anchor="middle">65</text>
<text x="631.62" y="491.7" font-size="13" text-anchor="middle">70</text>
<text x="651.50" y="491.7" font-size="13" text-anchor="middle">75</text>
<text x="671.39" y="491.7" font-size="13" text-anchor="middle">80</text>
<text x="182" y="515.4" font-size="15.3" text-anchor="middle">Wavenumber(cm<tspan font-size="10.5" dy="-6.5">-1</tspan><tspan dy="6.5">)</tspan></text>
<text x="524.3" y="516" font-size="15" text-anchor="middle">2Theta</text>
<text transform="translate(15.3 251.4) rotate(-90)" font-size="15.3" text-anchor="middle">Transmittance(a.u.)</text>
<text transform="translate(363.8 250) rotate(-90)" font-size="15.3" text-anchor="middle">Intensity(a.u.)</text>
<text font-size="16.4"><tspan x="-0.4" y="20.9" font-size="18.6" font-weight="normal" stroke="#000" stroke-width="0.45">(</tspan><tspan x="5.3" y="20.7">A</tspan><tspan x="17.9" y="20.9" font-size="18.6" font-weight="normal" stroke="#000" stroke-width="0.45">)</tspan></text>
<text font-size="18"><tspan x="339.2" y="21.2" font-size="18.3" font-weight="normal" stroke="#000" stroke-width="0.45">(</tspan><tspan x="345.4" y="21.6" textLength="10.7" lengthAdjust="spacingAndGlyphs">B</tspan><tspan x="356.3" y="21.2" font-size="18.3" font-weight="normal" stroke="#000" stroke-width="0.45">)</tspan></text>
<text x="42.3" y="61.2" font-size="15.5">c</text>
<text x="42.0" y="211.3" font-size="15.5">b</text>
<text x="42.0" y="347.0" font-size="15.5">a</text>
<text x="382.7" y="41.7" font-size="15.5">c</text>
<text x="382.8" y="192.3" font-size="15.5">b</text>
<text x="383.2" y="344.4" font-size="15.5">a</text>
</g>
<text x="433.6" y="126.0" font-size="13.5" text-anchor="middle" font-family="'DejaVu Sans', 'Liberation Sans', sans-serif" fill="#111">*</text>
</svg>
</body>
</html>
